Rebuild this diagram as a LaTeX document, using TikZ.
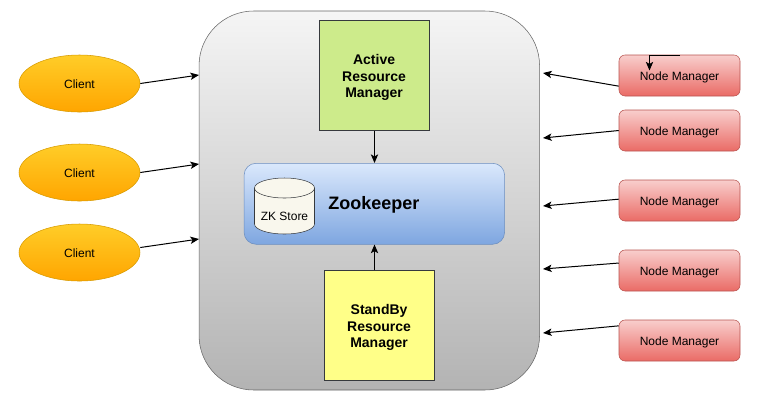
\documentclass[tikz,border=0pt]{standalone}
\usepackage{fontspec}
\setmainfont{Liberation Sans}
\usetikzlibrary{arrows.meta,positioning,shapes.geometric}
\definecolor{contTop}{HTML}{F5F5F5}
\definecolor{contBot}{HTML}{B3B3B3}
\definecolor{contLine}{HTML}{666666}
\definecolor{cliTop}{HTML}{FFCD28}
\definecolor{cliBot}{HTML}{FFA500}
\definecolor{cliLine}{HTML}{D79B00}
\definecolor{nmTop}{HTML}{F8CECC}
\definecolor{nmBot}{HTML}{EA6B66}
\definecolor{nmLine}{HTML}{B85450}
\definecolor{zkTop}{HTML}{DAE8FC}
\definecolor{zkBot}{HTML}{7EA6E0}
\definecolor{zkLine}{HTML}{6C8EBF}
\definecolor{actFill}{HTML}{CDEB8B}
\definecolor{sbFill}{HTML}{FFFF88}
\definecolor{ink}{HTML}{36393D}
\definecolor{cylFill}{HTML}{F9F7ED}
\newcommand\rmlift{\rule{0pt}{11pt}}
\tikzset{
  px/.style={x=0.75pt,y=-0.75pt},
  small/.style={font=\fontsize{9pt}{11pt}\selectfont,text height=8pt,text depth=0pt},
  container/.style={draw=contLine,top color=contTop,bottom color=contBot,rounded corners=41pt,minimum width=255.4pt,minimum height=284.25pt,inner sep=0pt},
  client/.style={small,draw=cliLine,top color=cliTop,bottom color=cliBot,ellipse,minimum width=90.75pt,minimum height=42.75pt,inner sep=0pt},
  nm/.style={small,draw=nmLine,top color=nmTop,bottom color=nmBot,rounded corners=4.5pt,minimum width=90.75pt,minimum height=30.75pt,inner sep=0pt},
  rm/.style={draw=ink,minimum width=82.5pt,minimum height=82.5pt,inner sep=0pt,align=center,font=\fontsize{10.5pt}{12.2pt}\selectfont\bfseries},
  zk/.style={draw=zkLine,top color=zkTop,bottom color=zkBot,rounded corners=9pt,minimum width=195.4pt,minimum height=60.75pt,inner sep=0pt},
  conn/.style={draw=black,line width=0.75pt,-{Stealth[length=6.5pt,width=5.5pt,inset=1.6pt]}},
}
\begin{document}
\begin{tikzpicture}[px]
\useasboundingbox (0,0) rectangle (759,401);
\node[container] (main) at (369.3,200.5) {};
\node[rm,fill=actFill,anchor=north west] (active) at (318.8,20) {\rmlift Active\\Resource\\Manager};
\node[rm,fill=sbFill,anchor=north west] (standby) at (323.8,270) {\rmlift StandBy\\Resource\\Manager};
\node[zk,anchor=north west] (zoo) at (243.8,163) {};
\node[font=\fontsize{13.5pt}{16pt}\selectfont\bfseries,anchor=west,inner sep=0pt] (zootext) at (328,204.5) {Zookeeper};
\draw[draw=ink,fill=cylFill] (254.5,188) arc[start angle=180,end angle=360,x radius=30,y radius=10] -- (314.5,224) arc[start angle=0,end angle=180,x radius=30,y radius=10] -- cycle;
\draw[draw=ink] (254.5,188) arc[start angle=180,end angle=0,x radius=30,y radius=10];
\node[small] (zkstore) at (284.5,215) {ZK Store};
\node[client] (c1) at (79.5,83.5) {Client};
\node[client] (c2) at (79.5,172.5) {Client};
\node[client] (c3) at (79.5,252.5) {Client};
\node[nm] (n1) at (679.5,75.5) {Node Manager};
\node[nm] (n2) at (679.5,130.5) {Node Manager};
\node[nm] (n3) at (679.5,200.5) {Node Manager};
\node[nm] (n4) at (679.5,270.5) {Node Manager};
\node[nm] (n5) at (679.5,340.5) {Node Manager};
\coordinate (mc1) at (199,75);
\coordinate (mc2) at (199,164);
\coordinate (mc3) at (199,239);
\coordinate (mn1) at (543,73);
\coordinate (mn2) at (543,138);
\coordinate (mn3) at (543,206);
\coordinate (mn4) at (543,269);
\coordinate (mn5) at (543,333);
\coordinate (loopa) at (680,55.5);
\coordinate (loopb) at (649.5,55.5);
\coordinate (loopc) at (649.5,70.5);
\coordinate (axis) at (374.5,0);
\draw[conn] (c1.east) -- (mc1);
\draw[conn] (c2.east) -- (mc2);
\draw[conn] ([yshift=3.75pt]c3.east) -- (mc3);
\draw[conn] ([yshift=-8pt]n1.west) -- (mn1);
\draw[conn] (n2.west) -- (mn2);
\draw[conn] ([yshift=1pt]n3.west) -- (mn3);
\draw[conn] ([yshift=5.6pt]n4.west) -- (mn4);
\draw[conn] ([yshift=11pt]n5.west) -- (mn5);
\draw[conn] (loopa) -- (loopb) -- (loopc);
\draw[conn] (axis |- active.south) -- (axis |- zoo.north);
\draw[conn] (axis |- standby.north) -- (axis |- zoo.south);
\end{tikzpicture}
\end{document}
